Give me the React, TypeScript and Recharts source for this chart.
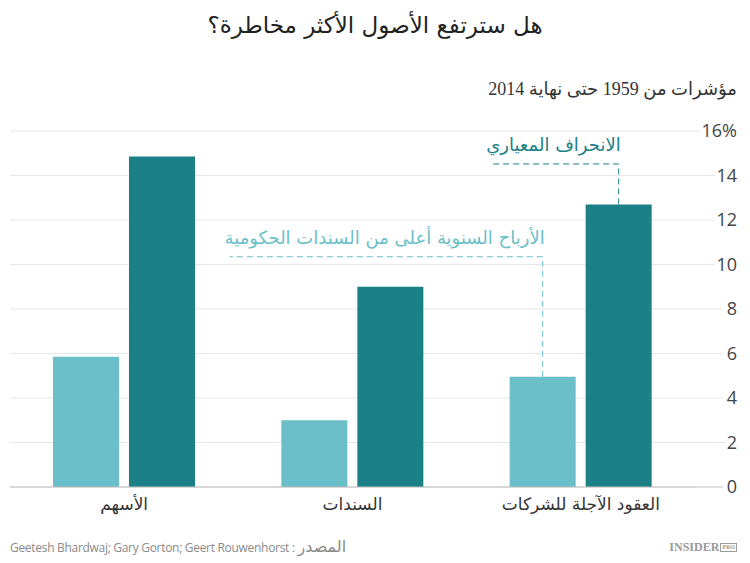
import React from "react";
import { BarChart, Bar, XAxis, YAxis, CartesianGrid, LabelList } from "recharts";

// القيم مقروءة من الرسم
const categories = ["الأسهم", "السندات", "العقود الآجلة للشركات"];
const excessReturn = [5.85, 3.0, 4.95];
const stdDev = [14.85, 9.0, 12.7];
const yTicks = [0, 2, 4, 6, 8, 10, 12, 14, 16];

const LIGHT = "#6bbfc9";
const DARK = "#1c8187";
const AR_FONT = "'DejaVu Sans', sans-serif";

const data = categories.map((name, i) => ({
  name,
  excess: excessReturn[i],
  sd: stdDev[i],
}));

const YTick = ({ x, y, payload }: any) => {
  const v = payload.value;
  return (
    <g>
      <line x1={x} x2={x + 42} y1={y} y2={y} stroke={v === 0 ? "#bdbdbd" : "#e6e6e6"} />
      <text
        x={x + 42}
        y={y}
        dy={6}
        textAnchor="end"
        fontSize={18}
        fontFamily="'Open Sans', sans-serif"
        fill="#444"
        stroke="#fff"
        strokeWidth={10}
        style={{ paintOrder: "stroke" }}
      >
        {v === 16 ? "16%" : v}
      </text>
    </g>
  );
};

const XTick = ({ x, y, payload }: any) => (
  <text x={x} y={y + 23} textAnchor="middle" fontSize={17} fontFamily={AR_FONT} fill="#333">
    {payload.value}
  </text>
);

// تعليق بخط متقطع فوق عمود العقود الآجلة
function makeNote(text: string, color: string, lineAt: number, textAt: number, len: number) {
  return (p: any) => {
    if (p.index !== 2) return null;
    const vb = p.viewBox || p;
    const cx = vb.x + vb.width / 2;
    const base = vb.y + vb.height;
    const k = vb.height / p.value;
    const ly = base - lineAt * k;
    const ty = base - textAt * k;
    return (
      <g>
        <path
          d={`M${cx},${vb.y} L${cx},${ly} L${cx - len},${ly}`}
          fill="none"
          stroke={color}
          strokeDasharray="6 4"
          strokeWidth={1}
        />
        <text x={cx + 2} y={ty} dy={6} textAnchor="end" fontSize={18} fontFamily={AR_FONT} fill={color}>
          {text}
        </text>
      </g>
    );
  };
}

export default function App() {
  return (
    <div
      style={{
        position: "absolute",
        left: 0,
        top: 0,
        width: 750,
        height: 563,
        background: "#fff",
        overflow: "hidden",
      }}
    >
      <div
        style={{
          position: "absolute",
          top: 12,
          left: 0,
          width: 750,
          textAlign: "center",
          direction: "rtl",
          fontFamily: AR_FONT,
          fontSize: 23,
          color: "#222",
        }}
      >
        هل سترتفع الأصول الأكثر مخاطرة؟
      </div>
      <div
        style={{
          position: "absolute",
          top: 78,
          right: 13,
          direction: "rtl",
          fontFamily: "'Liberation Serif', 'DejaVu Sans', serif",
          fontSize: 18,
          color: "#333",
        }}
      >
        مؤشرات من 1959 حتى نهاية 2014
      </div>

      <BarChart
        width={750}
        height={563}
        data={data}
        margin={{ top: 131, right: 13, bottom: 36, left: 10 }}
        barCategoryGap={43}
        barGap={10}
      >
        <CartesianGrid vertical={false} stroke="#e6e6e6" />
        <XAxis
          dataKey="name"
          height={40}
          tickLine={false}
          tickSize={0}
          tickMargin={0}
          axisLine={{ stroke: "#bdbdbd" }}
          tick={<XTick />}
          interval={0}
        />
        <YAxis
          orientation="right"
          width={42}
          domain={[0, 16]}
          ticks={yTicks}
          tickLine={false}
          tickSize={0}
          tickMargin={0}
          axisLine={false}
          tick={<YTick />}
          interval={0}
        />
        <Bar dataKey="excess" fill={LIGHT} isAnimationActive={false}>
          <LabelList
            dataKey="excess"
            content={makeNote("الأرباح السنوية أعلى من السندات الحكومية", LIGHT, 10.35, 11.2, 313)}
          />
        </Bar>
        <Bar dataKey="sd" fill={DARK} isAnimationActive={false}>
          <LabelList dataKey="sd" content={makeNote("الانحراف المعياري", DARK, 14.52, 15.37, 126)} />
        </Bar>
      </BarChart>

      <div
        style={{
          position: "absolute",
          left: 10,
          top: 537,
          fontFamily: "'Open Sans', sans-serif",
          fontSize: 12,
          color: "#8a8a8a",
          letterSpacing: -0.3,
        }}
      >
        Geetesh Bhardwaj; Gary Gorton; Geert Rouwenhorst :{" "}
        <span style={{ fontFamily: AR_FONT, fontSize: 16 }}>المصدر</span>
      </div>
      <div
        style={{
          position: "absolute",
          right: 13,
          top: 540,
          fontFamily: "'Liberation Serif', serif",
          fontWeight: "bold",
          fontSize: 12,
          color: "#9a9a9a",
          display: "flex",
          alignItems: "center",
        }}
      >
        INSIDER
        <span
          style={{
            fontSize: 6,
            border: "1px solid #9a9a9a",
            padding: "0 1px",
            marginLeft: 1,
            lineHeight: "7px",
          }}
        >
          PRO
        </span>
      </div>
    </div>
  );
}
